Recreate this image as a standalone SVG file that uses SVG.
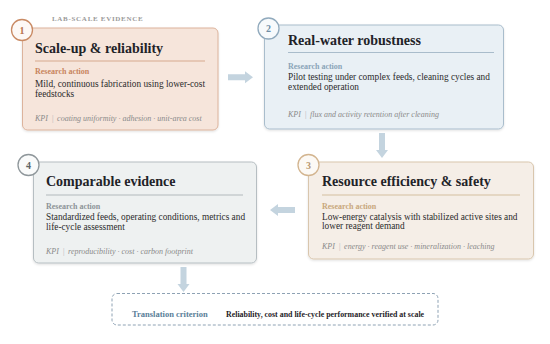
<svg xmlns="http://www.w3.org/2000/svg" width="550" height="344" viewBox="0 0 550 344">
<defs>
<filter id="sh" x="-10%" y="-10%" width="120%" height="130%">
<feDropShadow dx="0" dy="1.2" stdDeviation="1.2" flood-color="#000" flood-opacity="0.12"/>
</filter>
<style>
.t{font-family:"Liberation Serif","Times New Roman",serif}
.title{font-size:14px;font-weight:bold;fill:#1f2328}
.ra{font-size:8px;font-weight:bold}
.body{font-size:9.3px;fill:#2b2b2b}
.kpi{font-size:8px;font-style:italic;fill:#8a8a8a}
.sep{fill:#b5b5b5}
.num{font-size:10px;font-weight:bold;text-anchor:middle}
.arr{fill:#c4d4df}
</style>
</defs>
<rect width="550" height="344" fill="#ffffff"/>

<text class="t" x="52" y="21" font-size="7px" font-weight="bold" fill="#9a9a9a" letter-spacing="0.7">LAB-SCALE EVIDENCE</text>

<g id="connectors">
<path class="arr" d="M228,74.3 H245 V71.3 L253,77.3 L245,83.3 V80.3 H228 Z"/>
<path class="arr" d="M379,133 V150 H376 L382,158 L388,150 H385 V133 Z"/>
<path class="arr" d="M295,207 H278 V204 L270,210 L278,216 V213 H295 Z"/>
<path class="arr" d="M180.5,267 V284 H177.5 L183.5,292 L189.5,284 H186.5 V267 Z"/>
</g>

<g id="node1">
<rect x="22.5" y="28" width="195.5" height="102" rx="5" fill="#f6e5db" stroke="#dcb39c" stroke-width="1" filter="url(#sh)"/>
<circle cx="22" cy="30" r="10.5" fill="#fdf8f5" stroke="#c98a64" stroke-width="1.3"/>
<text class="t num" x="22" y="33.5" fill="#b8724b">1</text>
<text class="t title" x="35" y="53">Scale-up &amp; reliability</text>
<line x1="35" y1="61" x2="205" y2="61" stroke="#d6a98e" stroke-width="1"/>
<text class="t ra" x="35" y="74" fill="#c8845d">Research action</text>
<text class="t body" x="35" y="87">Mild, continuous fabrication using lower-cost</text>
<text class="t body" x="35" y="96.5">feedstocks</text>
<text class="t kpi" x="35" y="121">KPI<tspan class="sep" dx="3.5">|</tspan><tspan dx="3.5">coating uniformity · adhesion · unit-area cost</tspan></text>
</g>

<g id="node2">
<rect x="264.5" y="25" width="239" height="104" rx="5" fill="#e9f0f5" stroke="#a9bdcc" stroke-width="1" filter="url(#sh)"/>
<circle cx="268.5" cy="28.5" r="10.5" fill="#f7fafc" stroke="#91aabd" stroke-width="1.3"/>
<text class="t num" x="268.5" y="32" fill="#6f8ea6">2</text>
<text class="t title" x="288" y="45">Real-water robustness</text>
<line x1="288" y1="52.5" x2="494" y2="52.5" stroke="#a9bccb" stroke-width="1"/>
<text class="t ra" x="288" y="69" fill="#8aa4b8">Research action</text>
<text class="t body" x="288" y="80">Pilot testing under complex feeds, cleaning cycles and</text>
<text class="t body" x="288" y="89.5">extended operation</text>
<text class="t kpi" x="288" y="117">KPI<tspan class="sep" dx="3.5">|</tspan><tspan dx="3.5">flux and activity retention after cleaning</tspan></text>
</g>

<g id="node3">
<rect x="308.5" y="162" width="225" height="97" rx="5" fill="#f5eee7" stroke="#d9c6ad" stroke-width="1" filter="url(#sh)"/>
<circle cx="308.5" cy="165" r="10.5" fill="#fcf9f5" stroke="#d3b590" stroke-width="1.3"/>
<text class="t num" x="308.5" y="168.5" fill="#b99a72">3</text>
<text class="t title" x="322" y="186">Resource efficiency &amp; safety</text>
<line x1="322" y1="195" x2="520" y2="195" stroke="#d4bf9f" stroke-width="1"/>
<text class="t ra" x="322" y="209" fill="#c8a77c">Research action</text>
<text class="t body" x="322" y="220">Low-energy catalysis with stabilized active sites and</text>
<text class="t body" x="322" y="229">lower reagent demand</text>
<text class="t kpi" x="322" y="249">KPI<tspan class="sep" dx="3.5">|</tspan><tspan dx="3.5">energy · reagent use · mineralization · leaching</tspan></text>
</g>

<g id="node4">
<rect x="33.5" y="162" width="223" height="101" rx="5" fill="#eef1f1" stroke="#b6bec2" stroke-width="1" filter="url(#sh)"/>
<circle cx="28.5" cy="165" r="10.5" fill="#fafbfb" stroke="#8f979b" stroke-width="1.3"/>
<text class="t num" x="28.5" y="168.5" fill="#5f6569">4</text>
<text class="t title" x="46" y="186">Comparable evidence</text>
<line x1="46" y1="195" x2="243" y2="195" stroke="#b2b9bc" stroke-width="1"/>
<text class="t ra" x="46" y="209" fill="#8c9397">Research action</text>
<text class="t body" x="46" y="220">Standardized feeds, operating conditions, metrics and</text>
<text class="t body" x="46" y="229.5">life-cycle assessment</text>
<text class="t kpi" x="46" y="254">KPI<tspan class="sep" dx="3.5">|</tspan><tspan dx="3.5">reproducibility · cost · carbon footprint</tspan></text>
</g>

<g id="criterion">
<rect x="112" y="293.5" width="326" height="31.5" rx="5" fill="#ffffff" stroke="#8ea2b4" stroke-width="1" stroke-dasharray="3 2"/>
<text class="t" x="132" y="317" font-size="8.5px" font-weight="bold" fill="#5a7e98">Translation criterion</text>
<text class="t" x="226" y="317" font-size="7.9px" font-weight="bold" fill="#1f2328">Reliability, cost and life-cycle performance verified at scale</text>
</g>
</svg>
